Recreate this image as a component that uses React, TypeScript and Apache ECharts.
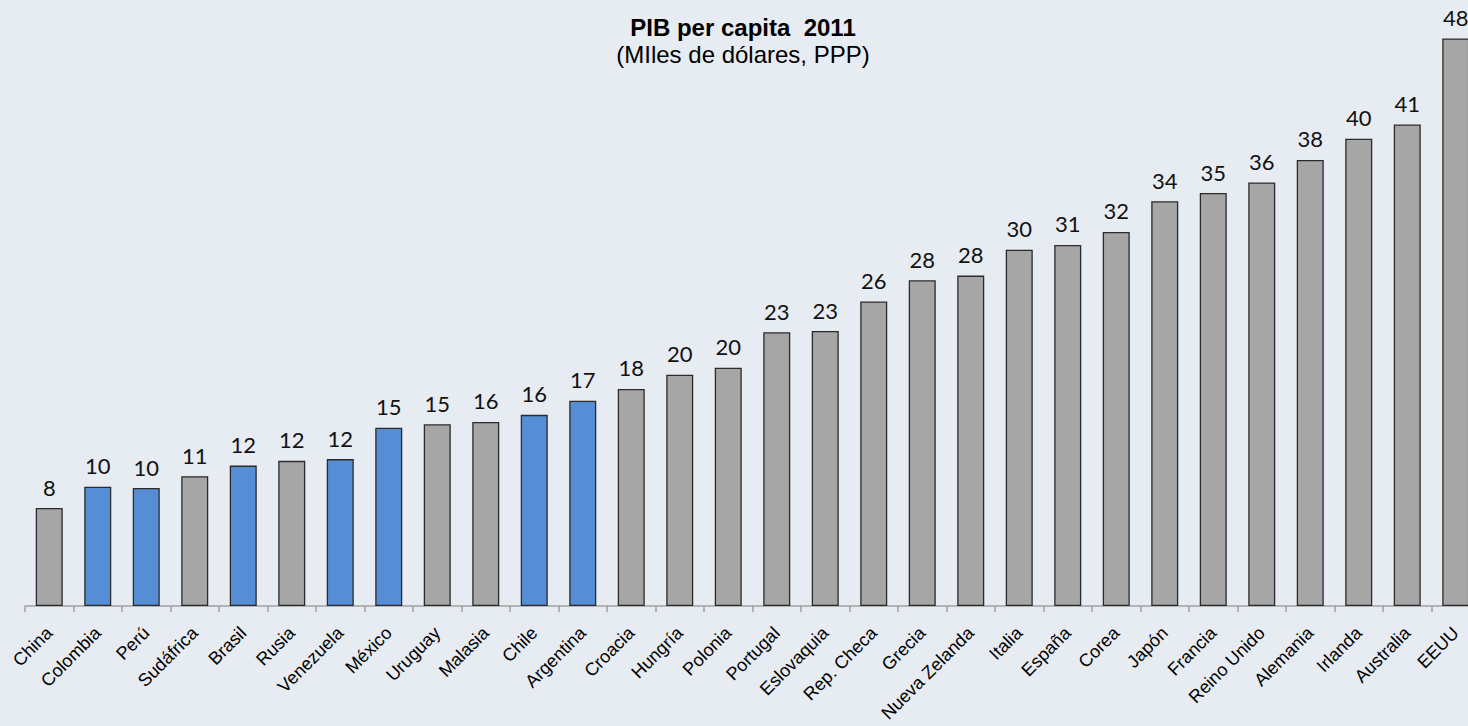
import React, { useEffect, useRef } from "react";
import * as echarts from "echarts";

const categories = [
  "China", "Colombia", "Perú", "Sudáfrica", "Brasil", "Rusia", "Venezuela", "México",
  "Uruguay", "Malasia", "Chile", "Argentina", "Croacia", "Hungría", "Polonia", "Portugal",
  "Eslovaquia", "Rep. Checa", "Grecia", "Nueva Zelanda", "Italia", "España", "Corea",
  "Japón", "Francia", "Reino Unido", "Alemania", "Irlanda", "Australia", "EEUU",
];
const values = [
  8.3, 10.1, 10.0, 11.0, 11.9, 12.3, 12.45, 15.1,
  15.4, 15.6, 16.2, 17.4, 18.4, 19.6, 20.2, 23.2,
  23.3, 25.8, 27.6, 28.0, 30.2, 30.6, 31.7,
  34.3, 35.0, 35.9, 37.8, 39.6, 40.8, 48.1,
];
const highlighted = ["Colombia", "Perú", "Brasil", "Venezuela", "México", "Chile", "Argentina"];

const GREY = "#A6A6A6";
const BLUE = "#558ED5";
const BG = "#E7EBF2";

export default function App() {
  const ref = useRef<HTMLDivElement>(null);
  useEffect(() => {
    if (!ref.current) return;
    const chart = echarts.init(ref.current, null, { renderer: "svg" });
    chart.setOption({
      animation: false,
      backgroundColor: BG,
      graphic: [
        {
          type: "text",
          x: 743,
          y: 27,
          style: {
            text: "PIB per capita  2011",
            font: "bold 24px 'Liberation Sans', Arial, sans-serif",
            fill: "#000",
            textAlign: "center",
            textVerticalAlign: "middle",
          },
        },
        {
          type: "text",
          x: 743,
          y: 54,
          style: {
            text: "(MIles de dólares, PPP)",
            font: "24px 'Liberation Sans', Arial, sans-serif",
            fill: "#000",
            textAlign: "center",
            textVerticalAlign: "middle",
          },
        },
      ],
      grid: { left: 25, right: 0, top: 16, bottom: 120, containLabel: false },
      xAxis: {
        type: "category",
        data: categories,
        axisLine: { show: true, lineStyle: { color: "#A0A0A0", width: 1.5 } },
        axisTick: { show: true, length: 6, lineStyle: { color: "#A0A0A0", width: 1.5 } },
        axisLabel: {
          interval: 0,
          rotate: 45,
          fontSize: 18,
          fontFamily: "'Liberation Sans', Arial, sans-serif",
          color: "#000",
          margin: 24,
        },
      },
      yAxis: { type: "value", min: 0, max: 50, show: false, splitLine: { show: false } },
      series: [
        {
          type: "bar",
          barWidth: 27,
          data: values.map((v, i) => ({
            value: v,
            itemStyle: {
              color: highlighted.includes(categories[i]) ? BLUE : GREY,
              borderColor: "#2A2A2A",
              borderWidth: 1.3,
            },
          })),
          label: {
            show: true,
            position: "top",
            distance: 10,
            fontSize: 22,
            fontFamily: "Lato, 'Open Sans', sans-serif",
            color: "#111",
            formatter: (p: any) => String(Math.round(p.value)),
          },
        },
      ],
    });
    return () => chart.dispose();
  }, []);
  return (
    <div style={{ position: "absolute", left: 0, top: 0, width: 1468, height: 726, overflow: "hidden" }}>
      <div ref={ref} style={{ width: 1480, height: 726 }} />
    </div>
  );
}
